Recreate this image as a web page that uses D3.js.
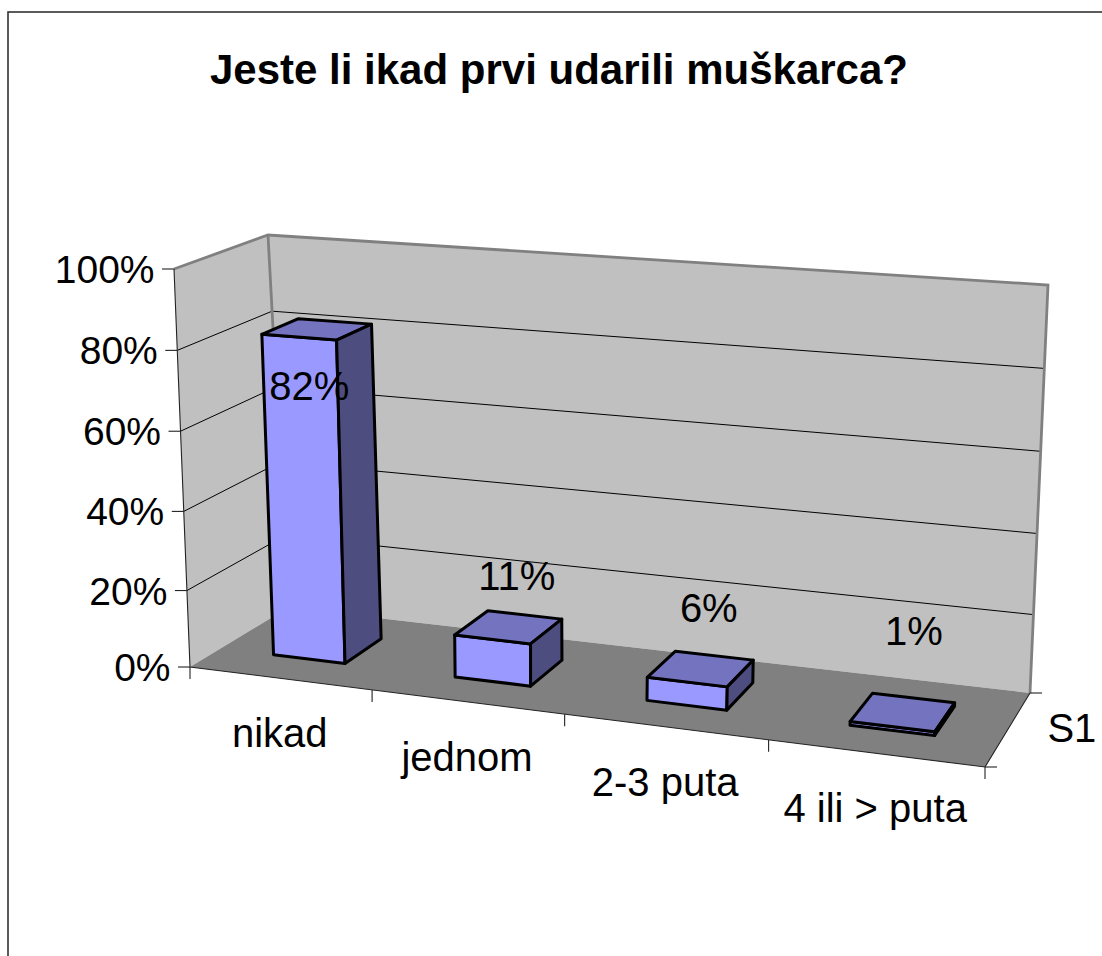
<!DOCTYPE html>
<html>
<head>
<meta charset="utf-8">
<script src="https://cdn.jsdelivr.net/npm/d3@7"></script>
<style>
  html, body { margin: 0; padding: 0; background: #fff; }
  svg { display: block; }
  text { font-family: "Liberation Sans", Arial, sans-serif; fill: #000; }
</style>
</head>
<body>
<script>
const title = "Jeste li ikad prvi udarili muškarca?";
const categories = ["nikad", "jednom", "2-3 puta", "4 ili > puta"];
const series = ["S1"];
const values = [0.82, 0.11, 0.06, 0.01];
const valueLabels = ["82%", "11%", "6%", "1%"];
const yTicks = [0, 0.2, 0.4, 0.6, 0.8, 1];

const width = 1102;
const height = 956;
const fontSize = 40;
const tickFontSize = 39;

// box corners on screen, as [front-left, front-right, back-right, back-left]
const floorQuad = [[190, 667], [985, 767], [1030, 693], [288, 607.7]];
const ceilQuad = [[174, 269], [1004, 326.5], [1048, 285], [268, 235]];

// label nudges from the centre of each bar's top face
const labelNudge = [[-8, 71], [8, -37], [8, -47], [11, -67]];

const catLabelDrop = 69;

// perspective map of the unit square onto a quad
function quadMap([p0, p1, p2, p3]) {
  const dx1 = p1[0] - p2[0], dx2 = p3[0] - p2[0], sx = p0[0] - p1[0] + p2[0] - p3[0];
  const dy1 = p1[1] - p2[1], dy2 = p3[1] - p2[1], sy = p0[1] - p1[1] + p2[1] - p3[1];
  const den = dx1 * dy2 - dx2 * dy1;
  const g = (sx * dy2 - dx2 * sy) / den;
  const h = (dx1 * sy - sx * dy1) / den;
  const a = p1[0] - p0[0] + g * p1[0], b = p3[0] - p0[0] + h * p3[0], c = p0[0];
  const d = p1[1] - p0[1] + g * p1[1], e = p3[1] - p0[1] + h * p3[1], f = p0[1];
  return (u, w) => {
    const q = g * u + h * w + 1;
    return [(a * u + b * w + c) / q, (d * u + e * w + f) / q];
  };
}

const floorMap = quadMap(floorQuad);
const ceilMap = quadMap(ceilQuad);

const xScale = d3.scaleBand().domain(categories).range([0, 1]).paddingInner(0.6).paddingOuter(0.3);
const zScale = d3.scaleBand().domain(series).range([0, 1]).paddingInner(0.6).paddingOuter(0.3);
// the steps get a little taller towards the top of the box
const yScale = d3.scalePow().exponent(1.025).domain([0, 1]).range([0, 1]);

// u along the categories, w into the depth, v a value
function project(u, w, v) {
  const a = floorMap(u, w), b = ceilMap(u, w), t = yScale(v);
  return [a[0] + (b[0] - a[0]) * t, a[1] + (b[1] - a[1]) * t];
}

const line = d3.line();
const poly = pts => line(pts) + "Z";

const svg = d3.select("body").append("svg")
  .attr("width", width)
  .attr("height", height)
  .attr("viewBox", [0, 0, width, height]);

// chart frame, runs off the right and bottom of the picture
svg.append("rect")
  .attr("x", 8).attr("y", 12)
  .attr("width", width + 40).attr("height", height + 40)
  .attr("fill", "#fff")
  .attr("stroke", "#333")
  .attr("stroke-width", 1.6);

svg.append("text")
  .attr("x", 559).attr("y", 84)
  .attr("text-anchor", "middle")
  .attr("font-size", 42)
  .attr("font-weight", "bold")
  .text(title);

// walls and floor
const walls = svg.append("g");
walls.append("path")
  .attr("d", poly([project(0, 0, 0), project(0, 0, 1), project(0, 1, 1), project(0, 1, 0)]))
  .attr("fill", "#c0c0c0");
walls.append("path")
  .attr("d", poly([project(0, 1, 0), project(0, 1, 1), project(1, 1, 1), project(1, 1, 0)]))
  .attr("fill", "#c0c0c0");
walls.append("path")
  .attr("d", poly([project(0, 0, 0), project(1, 0, 0), project(1, 1, 0), project(0, 1, 0)]))
  .attr("fill", "#808080");

// gridlines
svg.append("g")
  .attr("fill", "none")
  .attr("stroke", "#000")
  .attr("stroke-width", 1)
  .selectAll("path")
  .data(yTicks.filter(d => d > 0 && d < 1))
  .join("path")
  .attr("d", d => line([project(0, 0, d), project(0, 1, d), project(1, 1, d)]));

// grey wall edges
svg.append("path")
  .attr("d", line([project(0, 0, 1), project(0, 1, 1), project(1, 1, 1), project(1, 1, 0)]))
  .attr("fill", "none")
  .attr("stroke", "#808080")
  .attr("stroke-width", 2.8);
svg.append("path")
  .attr("d", line([project(0, 1, 1), project(0, 1, 0)]))
  .attr("fill", "none")
  .attr("stroke", "#808080")
  .attr("stroke-width", 2.8);

// axis lines
const axis = svg.append("g")
  .attr("fill", "none")
  .attr("stroke", "#222")
  .attr("stroke-width", 1.1);
axis.append("path").attr("d", line([project(0, 0, 1), project(0, 0, 0), project(1, 0, 0), project(1, 1, 0)]));

// value ticks
axis.selectAll(".ytick")
  .data(yTicks)
  .join("path")
  .attr("class", "ytick")
  .attr("d", d => {
    const p = project(0, 0, d);
    return line([[p[0] - 12, p[1]], p]);
  });

// category ticks
axis.selectAll(".xtick")
  .data(d3.range(categories.length + 1))
  .join("path")
  .attr("class", "xtick")
  .attr("d", i => {
    const p = project(i * xScale.step(), 0, 0);
    return line([p, [p[0], p[1] + 12]]);
  });

// series ticks
axis.selectAll(".ztick")
  .data([0, 1])
  .join("path")
  .attr("class", "ztick")
  .attr("d", w => {
    const p = project(1, w, 0);
    return line([p, [p[0] + 12, p[1]]]);
  });

// bars, front / top / side
const z0 = zScale(series[0]);
const z1 = z0 + zScale.bandwidth();
const bars = svg.append("g")
  .attr("stroke", "#000")
  .attr("stroke-width", 3)
  .attr("stroke-linejoin", "round")
  .selectAll("g")
  .data(categories)
  .join("g");

bars.append("path")
  .attr("fill", "#9999ff")
  .attr("d", (d, i) => {
    const u0 = xScale(d), u1 = u0 + xScale.bandwidth();
    return poly([project(u0, z0, 0), project(u1, z0, 0), project(u1, z0, values[i]), project(u0, z0, values[i])]);
  });
bars.append("path")
  .attr("fill", "#7373bf")
  .attr("d", (d, i) => {
    const u0 = xScale(d), u1 = u0 + xScale.bandwidth();
    return poly([project(u0, z0, values[i]), project(u1, z0, values[i]), project(u1, z1, values[i]), project(u0, z1, values[i])]);
  });
bars.append("path")
  .attr("fill", "#4d4d80")
  .attr("d", (d, i) => {
    const u1 = xScale(d) + xScale.bandwidth();
    return poly([project(u1, z0, 0), project(u1, z1, 0), project(u1, z1, values[i]), project(u1, z0, values[i])]);
  });

// tick labels
svg.append("g")
  .selectAll("text")
  .data(yTicks)
  .join("text")
  .attr("x", d => project(0, 0, d)[0] - 19.5)
  .attr("y", d => project(0, 0, d)[1] + 14)
  .attr("text-anchor", "end")
  .attr("font-size", tickFontSize)
  .text(d3.format(".0%"));

svg.append("g")
  .selectAll("text")
  .data(categories)
  .join("text")
  .attr("x", (d, i) => project((i + 0.5) * xScale.step(), 0, 0)[0])
  .attr("y", (d, i) => project((i + 0.5) * xScale.step(), 0, 0)[1] + catLabelDrop)
  .attr("text-anchor", "middle")
  .attr("font-size", fontSize)
  .text(d => d);

svg.append("text")
  .attr("x", project(1, 0.5, 0)[0] + 39)
  .attr("y", project(1, 0.5, 0)[1] + 14)
  .attr("font-size", fontSize)
  .text(series[0]);

// value labels
svg.append("g")
  .selectAll("text")
  .data(categories)
  .join("text")
  .attr("x", (d, i) => project(xScale(d) + xScale.bandwidth() / 2, 0.5, values[i])[0] + labelNudge[i][0])
  .attr("y", (d, i) => project(xScale(d) + xScale.bandwidth() / 2, 0.5, values[i])[1] + labelNudge[i][1])
  .attr("text-anchor", "middle")
  .attr("font-size", fontSize)
  .text((d, i) => valueLabels[i]);
</script>
</body>
</html>
